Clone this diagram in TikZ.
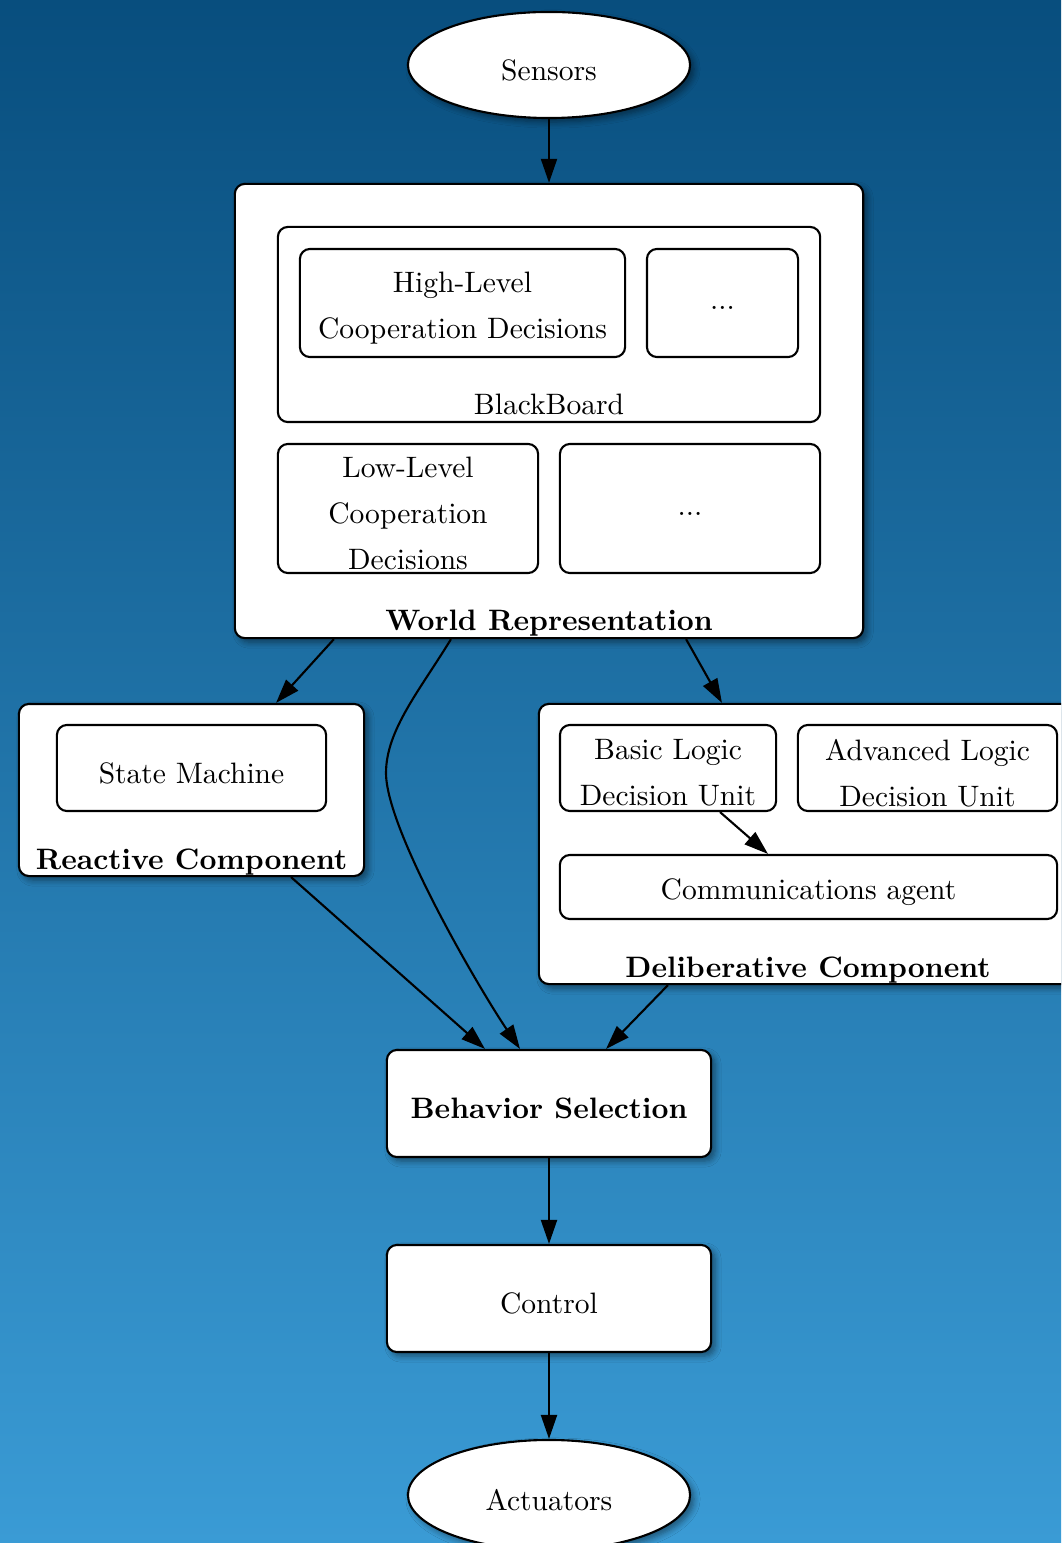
\documentclass[tikz,border=0pt]{standalone}
\usepackage{fontspec}
\setmainfont{lmroman10-regular.otf}[BoldFont=lmroman10-bold.otf]
\usetikzlibrary{positioning,arrows.meta,shapes.geometric,shadows.blur}
\definecolor{bgtop}{RGB}{8,78,126}
\definecolor{bgbot}{RGB}{58,155,213}
\newcommand{\diafont}{\fontsize{8.4}{13}\selectfont}
\newcommand{\diabold}{\fontsize{8.4}{13}\selectfont\bfseries}
\tikzset{
  box/.style={draw,line width=0.6pt,rounded corners=1mm,fill=white,inner sep=0pt},
  inside/.style={label={[align=center,yshift=-0.5mm]center:#1}},
  insidebf/.style={label={[font=\diabold,yshift=-0.5mm]center:#1}},
  outerbox/.style={box,blur shadow={shadow xshift=0.4mm,shadow yshift=-0.4mm,shadow blur steps=6,shadow opacity=45}},
  oval/.style={ellipse,draw,line width=0.6pt,fill=white,inner sep=0pt,minimum width=28.2mm,
    blur shadow={shadow xshift=0.4mm,shadow yshift=-0.4mm,shadow blur steps=6,shadow opacity=45}},
  grouptitle/.style={anchor=base,font=\diabold},
  flow/.style={-{Triangle[length=2.4mm,width=1.6mm]},line width=0.6pt}
}
\begin{document}
\begin{tikzpicture}[x=0.01cm,y=-0.01cm,every node/.style={font=\diafont}]
  \useasboundingbox (0,0) rectangle (1061,1543);
  \clip (0,0) rectangle (1061,1543);
  \shade[top color=bgtop,bottom color=bgbot] (0,0) rectangle (1061,1543);
  % input / output
  \node[oval,minimum height=10.6mm,inside=Sensors] (sensors) at (549,65) {};
  \node[oval,minimum height=11mm,inside=Actuators] (actuators) at (549,1495) {};
  % world representation
  \node[outerbox,minimum width=62.8mm,minimum height=45.4mm] (world) at (549,411) {};
  \node[grouptitle] (worldlbl) at ([yshift=0.85mm]world.south) {World Representation};
  \node[box,minimum width=54.2mm,minimum height=19.5mm] (board) at (549,324.5) {};
  \node[anchor=base] (boardlbl) at ([yshift=0.9mm]board.south) {BlackBoard};
  \node[box,minimum width=32.5mm,minimum height=10.8mm,inside={High-Level\\Cooperation Decisions}] (high) at (462.5,303) {};
  \node[box,minimum width=15.1mm,minimum height=10.8mm,inside=...] (dotsa) at (722.5,303) {};
  \node[box,minimum width=26mm,minimum height=12.9mm,inside={Low-Level\\Cooperation\\Decisions}] (low) at (408,508.5) {};
  \node[box,minimum width=26mm,minimum height=12.9mm,inside=...] (dotsb) at (690,508.5) {};
  % reactive
  \node[outerbox,minimum width=34.5mm,minimum height=17.2mm] (reactive) at (191.5,790) {};
  \node[grouptitle] (reactlbl) at ([yshift=0.8mm]reactive.south) {Reactive Component};
  \node[box,minimum width=26.9mm,minimum height=8.6mm,inside=State Machine] (statem) at (191.5,768) {};
  % deliberative
  \node[outerbox,minimum width=53.8mm,minimum height=28mm] (delib) at (808,844) {};
  \node[grouptitle] (deliblbl) at ([yshift=0.8mm]delib.south) {Deliberative Component};
  \node[box,minimum width=21.6mm,minimum height=8.6mm,inside={Basic Logic\\Decision Unit}] (basic) at (668,768) {};
  \node[box,minimum width=25.9mm,minimum height=8.6mm,inside={Advanced Logic\\Decision Unit}] (adv) at (927.5,768) {};
  \node[box,minimum width=49.7mm,minimum height=6.4mm,inside=Communications agent] (comm) at (808.5,887) {};
  % selection and control
  \node[outerbox,minimum width=32.4mm,minimum height=10.7mm,insidebf=Behavior Selection] (behav) at (549,1103.5) {};
  \node[outerbox,minimum width=32.4mm,minimum height=10.7mm,inside=Control] (control) at (549,1298.5) {};
  % connectors
  \draw[flow] (sensors.south) -- (world.north);
  \draw[flow] ([xshift=-21.5mm]world.south) -- ([xshift=8.45mm]reactive.north);
  \draw[flow] ([xshift=13.7mm]world.south) -- ([xshift=-8.6mm]delib.north);
  \coordinate (bend) at (386,773);
  \draw[flow] ([xshift=-9.8mm]world.south) .. controls (420,690) and (386,730) .. (bend)
    .. controls (386,830) and (480,990) .. ([xshift=-2.9mm]behav.north);
  \draw[flow] ([xshift=9.95mm]reactive.south) -- ([xshift=-6.4mm]behav.north);
  \draw[flow] ([xshift=-14mm]delib.south) -- ([xshift=5.7mm]behav.north);
  \draw[flow] ([xshift=5.2mm]basic.south) -- ([xshift=-4.05mm]comm.north);
  \draw[flow] (behav.south) -- (control.north);
  \draw[flow] (control.south) -- (actuators.north);
\end{tikzpicture}
\end{document}
